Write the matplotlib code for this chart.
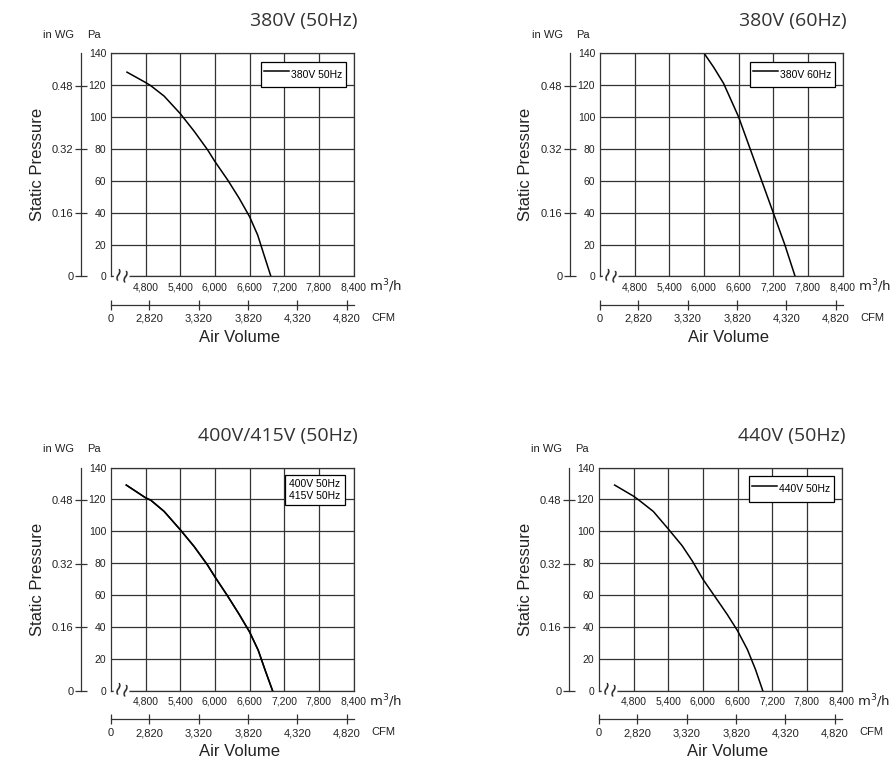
import matplotlib
matplotlib.use('Agg')
import matplotlib.pyplot as plt

# fan curves: static pressure (Pa) against air volume (m3/h)
m3h_ticks = [4800, 5400, 6000, 6600, 7200, 7800, 8400]
pa_ticks = [0, 20, 40, 60, 80, 100, 120, 140]
inwg_ticks = [0, 0.16, 0.32, 0.48]
cfm_ticks = [2820, 3320, 3820, 4320, 4820]

flow_380_50 = [4477, 4800, 4890, 5120, 5400, 5640, 5870, 6000, 6220, 6420, 6600, 6740, 6850, 6970]
sp_380_50 = [128, 121.5, 119.5, 113, 102, 91, 79.5, 72, 60.5, 49, 37.5, 26, 13.5, 0]

flow_380_60 = [6000, 6170, 6340, 6600, 6900, 7200, 7400, 7580]
sp_380_60 = [140, 131, 121, 100, 70, 40, 20, 0]

flow_400_50 = [4465, 4800, 4890, 5120, 5400, 5640, 5870, 6000, 6220, 6420, 6600, 6750, 6870, 7000]
sp_400_50 = [129, 121, 119.5, 112.5, 101, 90.5, 79, 71.5, 59.5, 48, 37, 25.5, 13, 0]

flow_440_50 = [4471, 4800, 4890, 5140, 5400, 5640, 5815, 6000, 6220, 6420, 6600, 6770, 6910, 7038]
sp_440_50 = [129, 122, 119.6, 112.5, 101.5, 91, 81.5, 70, 58.5, 48, 37.7, 26, 13.5, 0]

PA_PER_INWG = 249.09
m3h_lim = (4200, 8400)
pa_lim = (0, 140)
cfm_lim = (2430, 4890)

SANS = 'Liberation Sans'
INK = '#222222'

W, H = 896, 766
PW, PH = 242.5, 223.5
fig = plt.figure(figsize=(W / 100, H / 100), dpi=100)


def rect(l, t, w, h):
    return [l / W, 1 - (t + h) / H, w / W, h / H]


def fx(px):
    return px / W


def fy(py):
    return 1 - py / H


def panel(left, top, title, flow, pressure, labels, handle=True):
    ax = fig.add_axes(rect(left, top, PW, PH))
    ax.set_xlim(*m3h_lim)
    ax.set_ylim(*pa_lim)
    ax.set_xticks(m3h_ticks)
    ax.set_xticklabels([f'{v:,}' for v in m3h_ticks])
    ax.set_yticks(pa_ticks)
    ax.tick_params(length=0, labelsize=7.5, labelfontfamily=SANS, colors=INK)
    ax.tick_params(axis='x', pad=4)
    ax.tick_params(axis='y', pad=3.5)
    ax.grid(color='#333333', lw=0.9)
    for s in ax.spines.values():
        s.set_color('#333333')
        s.set_linewidth(0.9)
    ax.set_axisbelow(True)

    for lab in labels:
        ax.plot(flow, pressure, color='black', lw=1.1, label=lab)
    if handle:
        leg = ax.legend(loc='upper right', bbox_to_anchor=(1 - 8 / PW, 1 - 9 / PH), borderaxespad=0,
                        fancybox=False, edgecolor='black', framealpha=1, borderpad=0.3,
                        handlelength=2.4, handletextpad=0.2, handleheight=2.4,
                        prop={'family': SANS, 'size': 7.5})
    else:
        leg = ax.legend(loc='upper right', bbox_to_anchor=(1 - 9 / PW, 1 - 7 / PH), borderaxespad=0,
                        fancybox=False, edgecolor='black', framealpha=1, borderpad=0.4,
                        handlelength=0, handletextpad=0, labelspacing=0.2,
                        prop={'family': SANS, 'size': 7.5})
    leg.get_frame().set_linewidth(0.9)

    # axis break mark
    ax.text(4385, 0, '\u2240\u2240', rotation=-15, ha='center', va='center', fontsize=14,
            color=INK, clip_on=False, zorder=5,
            bbox=dict(facecolor='white', edgecolor='none', pad=0.1))

    # in WG scale
    aw = fig.add_axes(rect(left - 30, top, 1, PH))
    aw.set_ylim(*pa_lim)
    aw.set_facecolor('none')
    for k in ['top', 'right', 'bottom']:
        aw.spines[k].set_visible(False)
    aw.spines['left'].set_color('#333333')
    aw.spines['left'].set_linewidth(0.9)
    aw.set_xticks([])
    aw.set_yticks([v * PA_PER_INWG for v in inwg_ticks])
    aw.set_yticklabels(['0' if v == 0 else f'{v:.2f}' for v in inwg_ticks])
    aw.tick_params(axis='y', direction='inout', length=9, width=0.9, color='#333333',
                   labelsize=8, labelfontfamily=SANS, labelcolor=INK, pad=1)

    # CFM scale
    ac = fig.add_axes(rect(left, top + PH + 27, PW, 1))
    ac.set_xlim(*cfm_lim)
    ac.set_facecolor('none')
    for k in ['top', 'right', 'left']:
        ac.spines[k].set_visible(False)
    ac.spines['bottom'].set_color('#333333')
    ac.spines['bottom'].set_linewidth(0.9)
    ac.set_yticks([])
    ac.set_xticks([cfm_lim[0]] + cfm_ticks)
    ac.set_xticklabels(['0'] + [f'{v:,}' for v in cfm_ticks])
    ac.tick_params(axis='x', direction='inout', length=7, width=0.9, color='#333333',
                   labelsize=8, labelfontfamily=SANS, labelcolor=INK, pad=3)

    fig.text(fx(left + PW + 18), fy(top + PH + 41), 'CFM', ha='left', va='center',
             fontsize=8, family=SANS, color=INK)
    fig.text(fx(left + PW + 15), fy(top + PH + 10), 'm$^3$/h', ha='left', va='center',
             fontsize=9.5, color=INK)
    fig.text(fx(left + PW / 2 + 7), fy(top + PH + 61), 'Air Volume', ha='center', va='center',
             fontsize=12, family=SANS, color=INK)
    fig.text(fx(left - 74), fy(top + PH / 2), 'Static Pressure', ha='center', va='center',
             rotation=90, fontsize=12, family=SANS, color=INK)
    fig.text(fx(left - 37), fy(top - 18), 'in WG', ha='right', va='center',
             fontsize=8, family=SANS, color=INK)
    fig.text(fx(left - 24), fy(top - 18), 'Pa', ha='left', va='center',
             fontsize=8, family=SANS, color=INK)
    fig.text(fx(left + PW + 4), fy(top - 27), title, ha='right', va='baseline',
             fontsize=14, family='Open Sans', color='#333333')


panel(111, 53, '380V (50Hz)', flow_380_50, sp_380_50, ['380V 50Hz'])
panel(600, 53, '380V (60Hz)', flow_380_60, sp_380_60, ['380V 60Hz'])
panel(111, 467.5, '400V/415V (50Hz)', flow_400_50, sp_400_50, ['400V 50Hz', '415V 50Hz'], handle=False)
panel(599, 467.5, '440V (50Hz)', flow_440_50, sp_440_50, ['440V 50Hz'])

fig.savefig('out.png', dpi=100, facecolor='white')
